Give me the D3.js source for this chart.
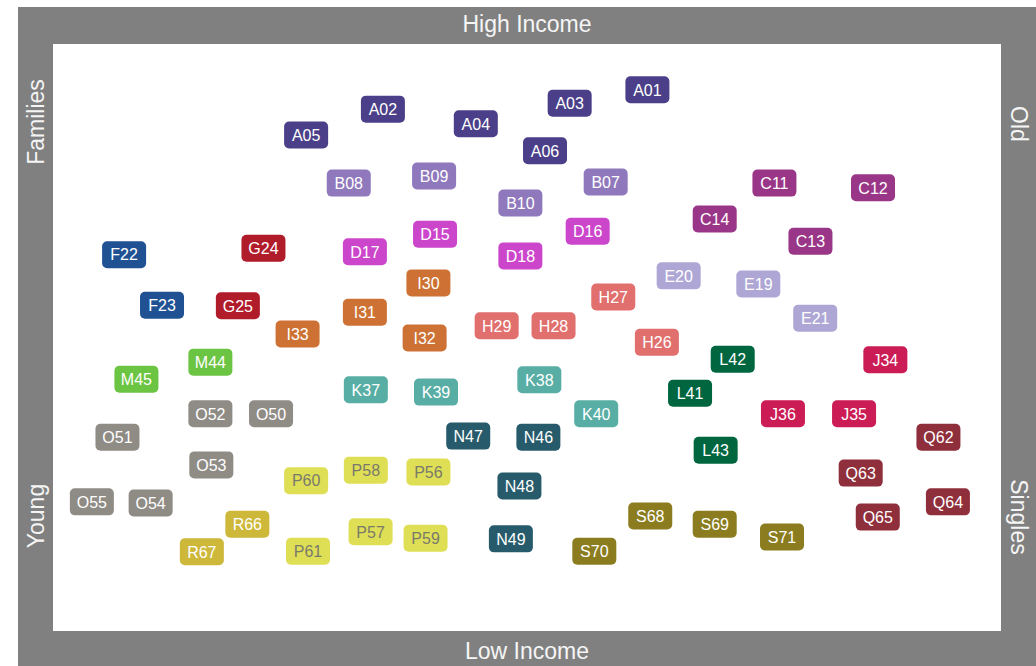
<!DOCTYPE html>
<html>
<head>
<meta charset="utf-8">
<script src="https://cdn.jsdelivr.net/npm/d3@7"></script>
<style>
  body { margin: 0; background: #fff; }
  svg { display: block; }
</style>
</head>
<body>
<div id="chart"></div>
<script>
// Segment codes and their position on the map (x: young -> old, y: low -> high income)
const codes = ["A01","A02","A03","A04","A05","A06","B07","B08","B09","B10",
  "C11","C12","C13","C14","D15","D16","D17","D18","E19","E20","E21",
  "F22","F23","G24","G25","H26","H27","H28","H29","I30","I31","I32","I33",
  "J34","J35","J36","K37","K38","K39","K40","L41","L42","L43","M44","M45",
  "N46","N47","N48","N49","O50","O51","O52","O53","O54","O55",
  "P56","P57","P58","P59","P60","P61","Q62","Q63","Q64","Q65","R66","R67",
  "S68","S69","S70","S71"];
const xValues = [62.7,34.8,54.5,44.6,26.7,51.9,58.3,31.2,40.2,49.3,
  76.1,86.5,79.9,69.8,40.3,56.4,32.9,49.3,74.4,66.0,80.4,
  7.5,11.5,22.2,19.5,63.7,59.1,52.8,46.8,39.6,32.9,39.2,25.8,
  87.8,84.5,77.0,33.0,51.3,40.4,57.3,67.2,71.7,69.9,16.6,8.8,
  51.2,43.8,49.2,48.3,23.0,6.8,16.6,16.7,10.3,4.1,
  39.6,33.5,33.0,39.3,26.7,26.9,93.4,85.2,94.4,87.0,20.5,15.7,
  63.0,69.8,57.1,76.9];
const yValues = [92.2,88.9,89.9,86.4,84.5,81.8,76.5,76.3,77.5,72.9,
  76.3,75.5,66.4,70.2,67.6,68.1,64.6,63.9,59.1,60.5,53.3,
  64.1,55.5,65.2,55.4,49.2,56.9,52.0,52.0,59.3,54.3,49.9,50.6,
  46.2,37.0,37.0,41.1,42.8,40.7,37.0,40.5,46.3,30.8,45.8,42.9,
  33.0,33.2,24.7,15.7,37.0,33.0,37.0,28.3,21.8,22.0,
  27.1,16.9,27.4,15.8,25.6,13.6,33.0,26.9,22.0,19.4,18.2,13.5,
  19.6,18.2,13.6,16.0];

// Group letters and colours
const groups = ["A","B","C","D","E","F","G","H","I","J","K","L","M","N","O","P","Q","R","S"];
const groupColors = ["#4a3f88","#8f79bc","#9a3687","#cc46cc","#aea7d5","#1f5193","#b11c2b",
  "#e06f6d","#cd7234","#cb1c56","#58aea5","#00663f","#6cc443","#275b6b","#8f8b85",
  "#dfdf55","#8f2f3b","#cdb83a","#8b7d1f"];

const edgeLabels = ["High Income", "Low Income", "Families", "Young", "Old", "Singles"];

const W = 1036, H = 666;
const frame = { left: 18, top: 7, right: 1036, bottom: 666 };
const inner = { left: 53, top: 44, right: 1001, bottom: 631 };

const svg = d3.select("#chart").append("svg")
  .attr("width", W)
  .attr("height", H)
  .style("font-family", "'Liberation Sans', Arial, sans-serif");

// grey frame and white plotting area
svg.append("rect")
  .attr("x", frame.left).attr("y", frame.top)
  .attr("width", frame.right - frame.left)
  .attr("height", frame.bottom - frame.top)
  .attr("fill", "#808080");
svg.append("rect")
  .attr("x", inner.left).attr("y", inner.top)
  .attr("width", inner.right - inner.left)
  .attr("height", inner.bottom - inner.top)
  .attr("fill", "#ffffff");

// edge labels
const labelColor = "#f5f5f5";
const midX = (inner.left + inner.right) / 2;
function edgeText(txt, x, y, rot) {
  svg.append("text")
    .attr("transform", "translate(" + x + "," + y + ") rotate(" + rot + ")")
    .attr("text-anchor", "middle")
    .attr("dy", "0.35em")
    .attr("fill", labelColor)
    .style("font-size", "23px")
    .text(txt);
}
edgeText(edgeLabels[0], midX, 24, 0);
edgeText(edgeLabels[1], midX, 651, 0);
edgeText(edgeLabels[2], 36, 122, -90);
edgeText(edgeLabels[3], 36, 516, -90);
edgeText(edgeLabels[4], 1019, 124, 90);
edgeText(edgeLabels[5], 1019, 517, 90);

// scales
const x = d3.scaleLinear().domain([0, 100]).range([inner.left, inner.right]);
const y = d3.scaleLinear().domain([0, 100]).range([inner.bottom, inner.top]);
const color = d3.scaleOrdinal().domain(groups).range(groupColors);

const data = codes.map((c, i) => ({ code: c, group: c[0], x: xValues[i], y: yValues[i] }));

const boxW = 44, boxH = 27;
const node = svg.selectAll(".seg")
  .data(data)
  .enter()
  .append("g")
  .attr("class", "seg")
  .attr("transform", d => "translate(" + x(d.x) + "," + y(d.y) + ")");

node.append("rect")
  .attr("x", -boxW / 2)
  .attr("y", -boxH / 2)
  .attr("width", boxW)
  .attr("height", boxH)
  .attr("rx", 5)
  .attr("fill", d => color(d.group));

node.append("text")
  .attr("text-anchor", "middle")
  .attr("dy", "0.36em")
  .style("font-size", "16px")
  .attr("fill", d => d.group === "P" ? "#7a7a6c" : "#ffffff")
  .text(d => d.code);
</script>
</body>
</html>
